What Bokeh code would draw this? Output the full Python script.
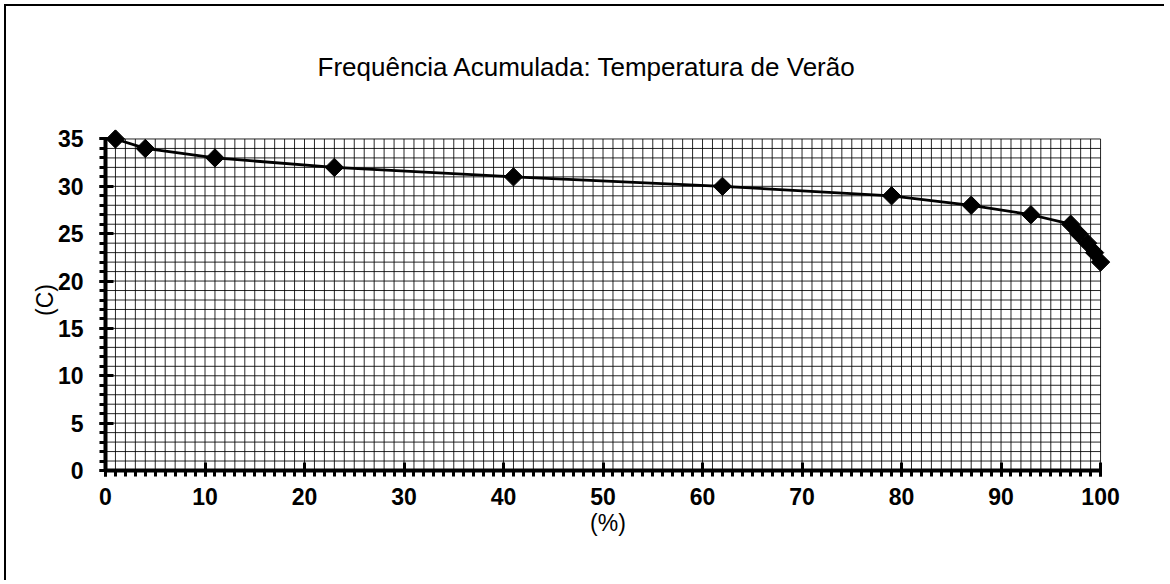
import math
from bokeh.plotting import figure
from bokeh.models import SingleIntervalTicker, Range1d, Title
from bokeh.embed import file_html
from bokeh.resources import INLINE

# data (cumulative frequency %, temperature °C)
pct = [1, 4, 11, 23, 41, 62, 79, 87, 93, 97, 97.8, 98.7, 99.4, 100]
temp = [35, 34, 33, 32, 31, 30, 29, 28, 27, 26, 25, 24, 23, 22]

title_text = "Frequência Acumulada: Temperatura de Verão"
x_label = "(%)"
y_label = "(C)"

X_MAX, Y_MAX = 100, 35

W, H = 1160, 576
p = figure(width=W, height=H, output_backend="svg", toolbar_location=None,
           x_range=Range1d(0, 101), y_range=Range1d(0, 36),
           min_border_left=99, min_border_right=56, min_border_top=121,
           min_border_bottom=112)
p.styles = {"border-left": "2px solid black", "border-top": "2px solid black",
            "margin-left": "4px", "margin-top": "4px"}
p.background_fill_color = "white"
p.border_fill_color = "white"
p.outline_line_color = None
p.xgrid.visible = False
p.ygrid.visible = False

t = Title(text=title_text, align="left", offset=212, vertical_align="top",
          text_font="Liberation Sans", text_font_size="26px",
          text_font_style="normal", text_color="black", standoff=91)
p.add_layout(t, "above")

p.xaxis.ticker = SingleIntervalTicker(interval=10, num_minor_ticks=10)
p.yaxis.ticker = SingleIntervalTicker(interval=5, num_minor_ticks=5)
p.xaxis.bounds = (0, X_MAX)
p.yaxis.bounds = (0, Y_MAX)

for ax in (p.xaxis, p.yaxis):
    ax.axis_line_color = "black"
    ax.axis_line_width = 4
    ax.major_tick_line_color = "black"
    ax.major_tick_line_width = 3
    ax.major_tick_in = 8
    ax.major_tick_out = 6
    ax.minor_tick_line_color = "black"
    ax.minor_tick_line_width = 3
    ax.minor_tick_in = 0
    ax.minor_tick_out = 6
    ax.major_label_text_font = "Liberation Sans"
    ax.major_label_text_font_style = "bold"
    ax.major_label_text_font_size = "23px"
    ax.major_label_text_color = "black"
    ax.axis_label_text_font = "Liberation Sans"
    ax.axis_label_text_font_style = "normal"
    ax.axis_label_text_font_size = "23px"
    ax.axis_label_text_color = "black"

p.xaxis.major_label_standoff = 11
p.yaxis.major_label_standoff = 16
p.xaxis.axis_label = x_label
p.yaxis.axis_label = y_label
p.xaxis.axis_label_standoff = 2
p.yaxis.axis_label_standoff = -3

# graph-paper grid (every unit) limited to the data area
gx = list(range(0, X_MAX + 1))
gy = list(range(0, Y_MAX + 1))
p.segment(x0=gx, y0=[0] * len(gx), x1=gx, y1=[Y_MAX] * len(gx),
          line_color="black", line_width=1, line_alpha=0.85)
p.segment(x0=[0] * len(gy), y0=gy, x1=[X_MAX] * len(gy), y1=gy,
          line_color="black", line_width=1, line_alpha=0.85)

p.line(pct, temp, line_color="black", line_width=2.8)
p.scatter(pct, temp, marker="square", size=13, angle=math.pi / 4,
          fill_color="black", line_color="black")

open("out.html", "w").write(file_html(p, INLINE))
